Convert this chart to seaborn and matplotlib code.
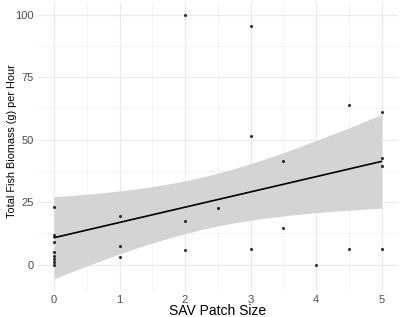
import matplotlib
matplotlib.use("Agg")
import matplotlib.pyplot as plt
import seaborn as sns
import pandas as pd
import numpy as np
from matplotlib.ticker import MultipleLocator

patch_size = [0, 0, 0, 0, 0, 0, 0, 0,
              1, 1, 1,
              2, 2, 2,
              2.5,
              3, 3, 3,
              3.5, 3.5,
              4,
              4.5, 4.5,
              5, 5, 5, 5]
biomass = [23, 12, 9, 5, 3.6, 2.3, 1, 0,
           19.4, 7.4, 3.2,
           100, 17.5, 5.8,
           22.7,
           95.5, 51.5, 6.2,
           41.6, 14.8,
           0,
           64, 6.2,
           61.2, 42.6, 39.4, 6.2]

x_ticks = [0, 1, 2, 3, 4, 5]
y_ticks = [0, 25, 50, 75, 100]

df = pd.DataFrame({"SAV Patch Size": patch_size, "Biomass": biomass})

sns.set_theme(style="white")
plt.rcParams["font.family"] = ["Liberation Sans", "DejaVu Sans"]

fig = plt.figure(figsize=(4.0, 3.17), dpi=100)
ax = fig.add_axes([0.094, 0.082, 0.901, 0.912])

# analytic 95% confidence band of the linear fit (as in ggplot's geom_smooth)
xv = np.asarray(patch_size, float)
yv = np.asarray(biomass, float)
n = len(xv)
b1, b0 = np.polyfit(xv, yv, 1)
resid = yv - (b0 + b1 * xv)
s = np.sqrt(np.sum(resid ** 2) / (n - 2))
grid = np.linspace(xv.min(), xv.max(), 100)
se = s * np.sqrt(1 / n + (grid - xv.mean()) ** 2 / np.sum((xv - xv.mean()) ** 2))
tcrit = 2.06  # t(0.975, df = n - 2)
fit = b0 + b1 * grid
ax.fill_between(grid, fit - tcrit * se, fit + tcrit * se, color="#d4d4d4", lw=0, zorder=2)

sns.regplot(data=df, x="SAV Patch Size", y="Biomass", ax=ax, ci=None,
            scatter_kws=dict(s=5, color="black", linewidths=0, zorder=3),
            line_kws=dict(color="black", lw=1.2, zorder=4))

ax.set_xlim(-0.25, 5.25)
ax.set_ylim(-10.5, 105.1)
ax.set_xticks(x_ticks)
ax.set_yticks(y_ticks)
ax.xaxis.set_minor_locator(MultipleLocator(0.5))
ax.yaxis.set_minor_locator(MultipleLocator(12.5))
ax.grid(True, which="major", color="#ebebeb", lw=0.9, zorder=0)
ax.grid(True, which="minor", color="#f3f3f3", lw=0.6, zorder=0)
ax.set_axisbelow(True)
for sp in ax.spines.values():
    sp.set_visible(False)
ax.tick_params(axis="both", which="both", length=0, labelsize=8, labelcolor="#4d4d4d", pad=3)

ax.set_xlabel("SAV Patch Size", fontsize=10, color="black")
ax.set_ylabel("Total Fish Biomass (g) per Hour", fontsize=7.8, color="black")
ax.xaxis.label.set_va("center")
ax.yaxis.label.set_va("center")
ax.xaxis.set_label_coords(0.5, -0.068)
ax.yaxis.set_label_coords(-0.072, 0.52)

fig.savefig("out.png", dpi=100)
